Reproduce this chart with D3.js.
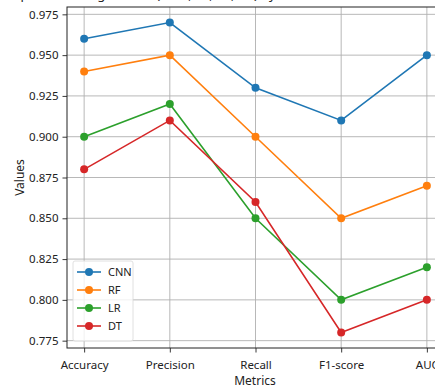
<!DOCTYPE html>
<html><head><meta charset="utf-8">
<script src="https://cdn.jsdelivr.net/npm/d3@7"></script>
<style>body{margin:0;background:#fff}svg{display:block}text{font-family:"Noto Sans","Open Sans",sans-serif}</style>
</head><body><svg id="c" width="435" height="388"></svg>
<script>
const categories = ["Accuracy","Precision","Recall","F1-score","AUC"];
const seriesNames = ["CNN","RF","LR","DT"];
const cnnValues = [0.96,0.97,0.93,0.91,0.95];
const rfValues = [0.94,0.95,0.90,0.85,0.87];
const lrValues = [0.90,0.92,0.85,0.80,0.82];
const dtValues = [0.88,0.91,0.86,0.78,0.80];
const yTicks = [0.775,0.800,0.825,0.850,0.875,0.900,0.925,0.950,0.975];
const colors = ["#1f77b4","#ff7f0e","#2ca02c","#d62728"];
const series = [cnnValues,rfValues,lrValues,dtValues];

const svg = d3.select("#c");
const L=67, R=444, T=7, B=348;
const x = d3.scaleLinear().domain([-0.2,4.2]).range([L,R]);
const y = d3.scaleLinear().domain([0.7705,0.9795]).range([B,T]);

svg.append("text").attr("x",251).attr("y",-1).attr("text-anchor","middle").attr("font-size",13).attr("fill","#222")
  .text("Comparison of Algorithms (CNN, RF, LR, DT) by Performance Metrics using Weighting");

// grid
svg.append("g").selectAll("line").data(yTicks).join("line")
  .attr("x1",L).attr("x2",R).attr("y1",d=>y(d)).attr("y2",d=>y(d))
  .attr("stroke","#b0b0b0").attr("stroke-width",0.9);
svg.append("g").selectAll("line").data(categories).join("line")
  .attr("x1",(d,i)=>x(i)).attr("x2",(d,i)=>x(i)).attr("y1",T).attr("y2",B)
  .attr("stroke","#b0b0b0").attr("stroke-width",0.9);

// axes
const yAxis = d3.axisLeft(y).tickValues(yTicks).tickFormat(d3.format(".3f")).tickSize(4.5).tickPadding(4);
const gy = svg.append("g").attr("transform",`translate(${L},0)`).call(yAxis);
const xAxis = d3.axisBottom(x).tickValues(d3.range(categories.length)).tickFormat(i=>categories[i]).tickSize(4.5).tickPadding(8);
const gx = svg.append("g").attr("transform",`translate(0,${B})`).call(xAxis);
[gx,gy].forEach(g=>{g.select(".domain").remove();g.selectAll("text").attr("font-size",11.5).attr("fill","#222").attr("font-family","Noto Sans");g.selectAll("line").attr("stroke","#222").attr("stroke-width",0.9);});
svg.append("rect").attr("x",L).attr("y",T).attr("width",R-L).attr("height",B-T).attr("fill","none").attr("stroke","#222").attr("stroke-width",1);

svg.append("text").attr("transform",`translate(24,${(T+B)/2}) rotate(-90)`).attr("text-anchor","middle").attr("font-size",12).attr("fill","#222").text("Values");
svg.append("text").attr("x",255).attr("y",385).attr("text-anchor","middle").attr("font-size",12).attr("fill","#222").text("Metrics");

// lines
const line = d3.line().x((d,i)=>x(i)).y(d=>y(d));
series.forEach((s,k)=>{
  const g = svg.append("g");
  g.append("path").datum(s).attr("d",line).attr("fill","none").attr("stroke",colors[k]).attr("stroke-width",1.6);
  g.selectAll("circle").data(s).join("circle").attr("cx",(d,i)=>x(i)).attr("cy",d=>y(d)).attr("r",4).attr("fill",colors[k]);
});

// legend
const lg = svg.append("g").attr("transform","translate(73,261)");
lg.append("rect").attr("width",60).attr("height",80).attr("rx",2).attr("fill","#fff").attr("fill-opacity",0.8).attr("stroke","#d8d8d8").attr("stroke-width",0.8);
seriesNames.forEach((n,k)=>{
  const yy = 11 + k*18;
  lg.append("line").attr("x1",4).attr("x2",28).attr("y1",yy).attr("y2",yy).attr("stroke",colors[k]).attr("stroke-width",1.6);
  lg.append("circle").attr("cx",16).attr("cy",yy).attr("r",4).attr("fill",colors[k]);
  lg.append("text").attr("x",35).attr("y",yy+4).attr("font-size",11).attr("fill","#222").text(n);
});
</script></body></html>
